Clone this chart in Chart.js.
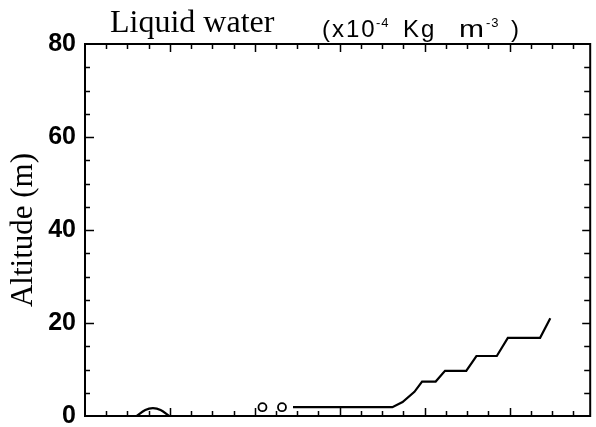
<!DOCTYPE html>
<html>
<head>
<meta charset="utf-8">
<script src="https://cdn.jsdelivr.net/npm/chart.js@4"></script>
<style>
  html, body { margin: 0; padding: 0; background: #fff; }
  #wrap { position: relative; width: 596px; height: 427px; }
  #c { position: absolute; left: 0; top: 0; }
  .t { position: absolute; color: #000; white-space: nowrap; }
  .serif { font-family: "Liberation Serif", serif; font-size: 32px; line-height: 32px; }
  .sans { font-family: "Liberation Sans", sans-serif; font-size: 24px; line-height: 24px; letter-spacing: 2px; }
  .sup { font-family: "Liberation Sans", sans-serif; font-size: 13px; line-height: 13px; letter-spacing: 1px; }
  .wide { transform: scaleX(1.25); transform-origin: left center; }
</style>
</head>
<body>
<div id="wrap">
  <canvas id="c" width="596" height="427"></canvas>
  <div class="t serif" style="left:110px; top:5px">Liquid water</div>
  <div class="t sans" style="left:322px; top:17px">(x10</div>
  <div class="t sup" style="left:376px; top:16px">-4</div>
  <div class="t sans" style="left:403px; top:17px">Kg</div>
  <div class="t sans wide" style="left:459px; top:17px">m</div>
  <div class="t sup" style="left:486px; top:16px">-3</div>
  <div class="t sans" style="left:511px; top:17px">)</div>
</div>
<script>
// small hump near the origin
const bumpX = [0.61, 0.71, 0.80, 0.89, 0.99];
const bumpY = [0, 1.3, 1.7, 1.3, 0];
// two open circles
const dotX = [2.09, 2.32];
const dotY = [1.9, 1.9];
// main profile
const profX = [2.45, 3.62, 3.74, 3.88, 3.97, 4.13, 4.24, 4.49, 4.61, 4.85, 4.98, 5.36, 5.48];
const profY = [1.9, 1.9, 3.0, 5.2, 7.4, 7.4, 9.7, 9.7, 12.9, 12.9, 16.8, 16.8, 21.0];

const xMin = 0, xMax = 5.95, xMinorStep = 0.25;
const yMin = 0, yMax = 80, yMajorStep = 20, yMinorStep = 5;

function pts(xs, ys) {
  return xs.map((v, i) => ({x: v, y: ys[i]}));
}

// box frame with inward tick marks on all four sides
const frame = {
  id: 'frame',
  afterDraw(chart) {
    const ctx = chart.ctx, a = chart.chartArea;
    const x = chart.scales.x, y = chart.scales.y;
    ctx.save();
    ctx.strokeStyle = '#000';
    ctx.lineWidth = 2;
    ctx.strokeRect(a.left, a.top, a.right - a.left, a.bottom - a.top);
    ctx.lineWidth = 1.5;
    ctx.beginPath();
    for (let v = xMin + xMinorStep; v < xMax - 0.05; v += xMinorStep) {
      const px = Math.round(x.getPixelForValue(v)) + 0.5;
      const len = Math.abs(v - Math.round(v)) < 1e-6 ? 8 : 5;
      ctx.moveTo(px, a.bottom); ctx.lineTo(px, a.bottom - len);
      ctx.moveTo(px, a.top); ctx.lineTo(px, a.top + len);
    }
    for (let v = yMin + yMinorStep; v < yMax; v += yMinorStep) {
      const py = Math.round(y.getPixelForValue(v)) + 0.5;
      const len = v % yMajorStep === 0 ? 9 : 5;
      ctx.moveTo(a.left, py); ctx.lineTo(a.left + len, py);
      ctx.moveTo(a.right, py); ctx.lineTo(a.right - (len > 5 ? 8 : 6), py);
    }
    ctx.stroke();
    ctx.restore();
  }
};

new Chart(document.getElementById('c'), {
  type: 'scatter',
  data: {
    datasets: [
      {data: pts(bumpX, bumpY), showLine: true, tension: 0.4, borderColor: '#000', borderWidth: 2.2, pointRadius: 0},
      {data: pts(dotX, dotY), showLine: false, pointRadius: 4, pointBorderWidth: 1.8, borderColor: '#000', backgroundColor: '#fff'},
      {data: pts(profX, profY), showLine: true, tension: 0, borderColor: '#000', borderWidth: 2.2, pointRadius: 0}
    ]
  },
  options: {
    responsive: false,
    animation: false,
    layout: {padding: {top: 44, right: 2, bottom: 11, left: 0}},
    plugins: {legend: {display: false}, tooltip: {enabled: false}},
    scales: {
      x: {type: 'linear', min: xMin, max: xMax, display: false},
      y: {
        type: 'linear', min: yMin, max: yMax,
        afterFit(s) { s.width = 85; },
        grid: {display: false, drawTicks: false},
        border: {display: false},
        ticks: {stepSize: yMajorStep, padding: 9, color: '#000',
                font: {family: '"Liberation Sans", Arial, sans-serif', size: 25, weight: 'bold', lineHeight: 0.1}},
        title: {display: true, text: 'Altitude (m)', color: '#000', padding: {top: 5, bottom: 0},
                font: {family: '"Liberation Serif", serif', size: 31}}
      }
    }
  },
  plugins: [frame]
});
</script>
</body>
</html>
